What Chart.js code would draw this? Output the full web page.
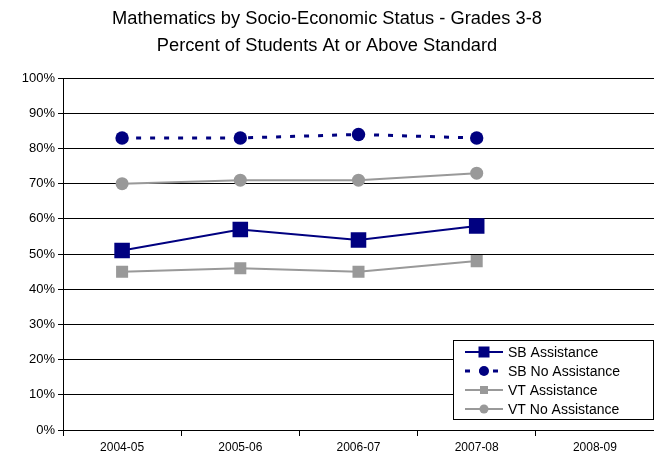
<!DOCTYPE html>
<html>
<head>
<meta charset="utf-8">
<script src="https://cdn.jsdelivr.net/npm/chart.js@4"></script>
<style>
  html, body { margin: 0; padding: 0; background: #fff; }
  #wrap { width: 654px; height: 457px; }
</style>
</head>
<body>
<div id="wrap"><canvas id="mathChart" width="654" height="457"></canvas></div>
<script>
// data
const years = ["2004-05", "2005-06", "2006-07", "2007-08", "2008-09"];
const sbAssistance = [51, 57, 54, 58, null];
const sbNoAssistance = [83, 83, 84, 83, null];
const vtAssistance = [45, 46, 45, 48, null];
const vtNoAssistance = [70, 71, 71, 73, null];
const yTicks = [0, 10, 20, 30, 40, 50, 60, 70, 80, 90, 100];

const NAVY = "#000080";
const GRAY = "#999999";
const FONT = "'Liberation Sans', Arial, sans-serif";

// legend drawn inside the plot, like the original
const boxLegend = {
    id: "boxLegend",
    afterDraw(chart) {
        const ctx = chart.ctx;
        const x = 453, y = 340, w = 201, h = 80;
        ctx.save();
        ctx.fillStyle = "#fff";
        ctx.fillRect(x, y, w, h);
        ctx.strokeStyle = "#000";
        ctx.lineWidth = 1;
        ctx.strokeRect(x + 0.5, y + 0.5, w - 1, h - 1);
        chart.data.datasets.forEach((ds, i) => {
            const cy = y + 12 + i * 19;
            ctx.strokeStyle = ds.borderColor;
            ctx.lineWidth = ds.borderWidth;
            ctx.setLineDash(ds.borderDash || []);
            ctx.beginPath();
            ctx.moveTo(x + 12, cy);
            ctx.lineTo(x + 50, cy);
            ctx.stroke();
            ctx.setLineDash([]);
            ctx.fillStyle = ds.pointBackgroundColor;
            const s = ds.legendSize;
            if (ds.pointStyle === "rect") {
                ctx.fillRect(x + 31 - s / 2, cy - s / 2, s, s);
            } else {
                ctx.beginPath();
                ctx.arc(x + 31, cy, s / 2, 0, Math.PI * 2);
                ctx.fill();
            }
            ctx.fillStyle = "#000";
            ctx.font = "14px " + FONT;
            ctx.textBaseline = "middle";
            ctx.fillText(ds.label, x + 55, cy + 1);
        });
        ctx.restore();
    }
};

function renderChart() {
    const ctx = document.getElementById("mathChart").getContext("2d");

    new Chart(ctx, {
        type: "line",
        data: {
            labels: years,
            datasets: [
                {
                    label: "SB Assistance",
                    data: sbAssistance,
                    borderColor: NAVY,
                    borderWidth: 2,
                    pointStyle: "rect",
                    pointRadius: 11,
                    pointBackgroundColor: NAVY,
                    pointBorderWidth: 0,
                    legendSize: 11
                },
                {
                    label: "SB No Assistance",
                    data: sbNoAssistance,
                    borderColor: NAVY,
                    borderWidth: 3,
                    borderDash: [5, 9],
                    pointStyle: "circle",
                    pointRadius: 6.7,
                    pointBackgroundColor: NAVY,
                    pointBorderWidth: 0,
                    legendSize: 10
                },
                {
                    label: "VT Assistance",
                    data: vtAssistance,
                    borderColor: GRAY,
                    borderWidth: 2,
                    pointStyle: "rect",
                    pointRadius: 8.5,
                    pointBackgroundColor: GRAY,
                    pointBorderWidth: 0,
                    legendSize: 8
                },
                {
                    label: "VT No Assistance",
                    data: vtNoAssistance,
                    borderColor: GRAY,
                    borderWidth: 2,
                    pointStyle: "circle",
                    pointRadius: 6.5,
                    pointBackgroundColor: GRAY,
                    pointBorderWidth: 0,
                    legendSize: 9
                }
            ]
        },
        options: {
            responsive: false,
            animation: false,
            layout: { autoPadding: false, padding: { top: 5, right: 0, left: 0, bottom: 0 } },
            plugins: {
                legend: { display: false },
                tooltip: { enabled: false },
                title: {
                    display: true,
                    text: ["Mathematics by Socio-Economic Status - Grades 3-8",
                           "Percent of Students At or Above Standard"],
                    color: "#000",
                    font: { family: FONT, size: 18.3, weight: "normal", lineHeight: 1.48 },
                    padding: { top: 0, bottom: 19 }
                }
            },
            scales: {
                x: {
                    offset: true,
                    grid: {
                        offset: true,
                        drawOnChartArea: false,
                        color: "#000",
                        tickLength: 6
                    },
                    border: { color: "#000", width: 1 },
                    ticks: {
                        color: "#000",
                        font: { family: FONT, size: 12 },
                        padding: 4,
                        maxRotation: 0
                    },
                    afterFit(scale) {
                        scale.height = 27;
                        scale.paddingLeft = 0;
                        scale.paddingRight = 0;
                    }
                },
                y: {
                    min: 0,
                    max: 100,
                    afterBuildTicks(scale) {
                        scale.ticks = yTicks.map(v => ({ value: v }));
                    },
                    grid: {
                        color: "#000",
                        lineWidth: 1,
                        tickLength: 5
                    },
                    border: { color: "#000", width: 1 },
                    ticks: {
                        color: "#000",
                        font: { family: FONT, size: 13 },
                        padding: 3,
                        callback: v => v + "%"
                    },
                    afterFit(scale) { scale.width = 63; }
                }
            }
        },
        plugins: [boxLegend]
    });
}

renderChart();
</script>
</body>
</html>
